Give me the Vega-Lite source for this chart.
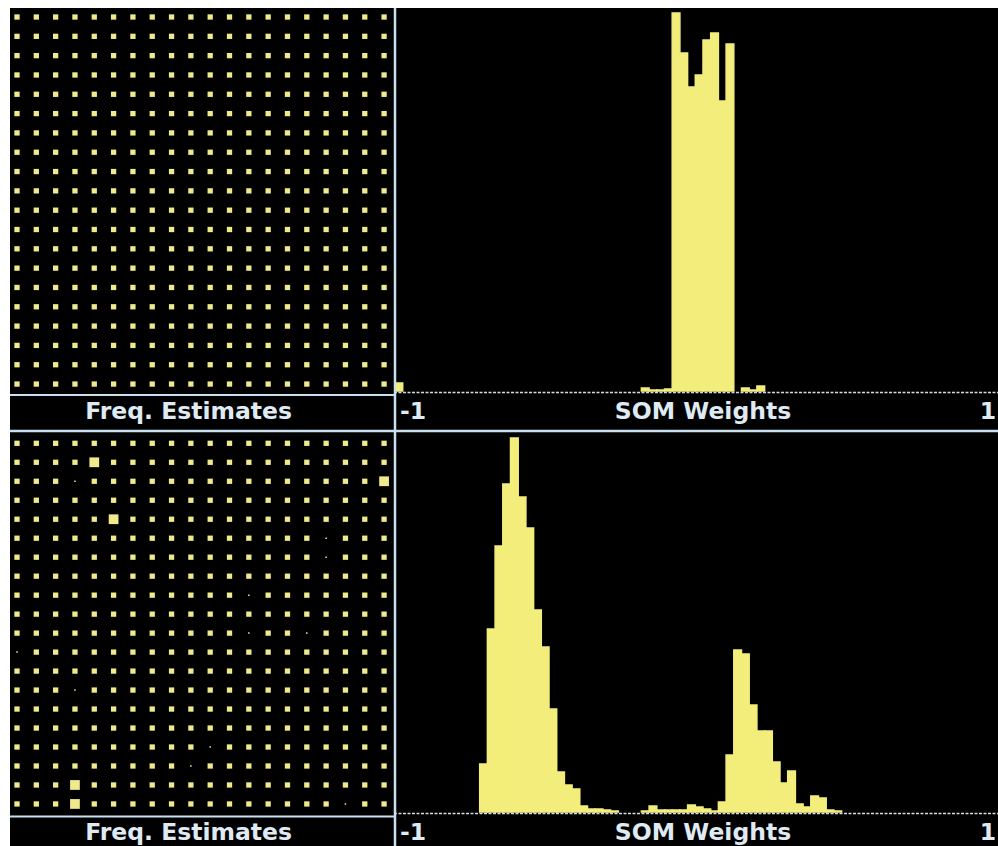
{
  "$schema": "https://vega.github.io/schema/vega-lite/v6.json",
  "background": "#ffffff",
  "padding": {"left": 8, "top": 6, "right": 0, "bottom": 0},
  "bounds": "flush",
  "spacing": 0,
  "columns": 2,
  "config": {
    "view": {"stroke": null, "fill": "#000000"},
    "text": {"font": "DejaVu Sans", "fontWeight": "bold", "fontSize": 23.5, "color": "#dfeaf3", "baseline": "alphabetic"}
  },
  "datasets": {
    "gridA": [
      {"r":0,"c":0,"f":1},{"r":0,"c":1,"f":1},{"r":0,"c":2,"f":1},{"r":0,"c":3,"f":1},{"r":0,"c":4,"f":1},{"r":0,"c":5,"f":1},{"r":0,"c":6,"f":1},{"r":0,"c":7,"f":1},{"r":0,"c":8,"f":1},{"r":0,"c":9,"f":1},{"r":0,"c":10,"f":1},{"r":0,"c":11,"f":1},{"r":0,"c":12,"f":1},{"r":0,"c":13,"f":1},{"r":0,"c":14,"f":1},{"r":0,"c":15,"f":1},{"r":0,"c":16,"f":1},{"r":0,"c":17,"f":1},{"r":0,"c":18,"f":1},{"r":0,"c":19,"f":1},
      {"r":1,"c":0,"f":1},{"r":1,"c":1,"f":1},{"r":1,"c":2,"f":1},{"r":1,"c":3,"f":1},{"r":1,"c":4,"f":1},{"r":1,"c":5,"f":1},{"r":1,"c":6,"f":1},{"r":1,"c":7,"f":1},{"r":1,"c":8,"f":1},{"r":1,"c":9,"f":1},{"r":1,"c":10,"f":1},{"r":1,"c":11,"f":1},{"r":1,"c":12,"f":1},{"r":1,"c":13,"f":1},{"r":1,"c":14,"f":1},{"r":1,"c":15,"f":1},{"r":1,"c":16,"f":1},{"r":1,"c":17,"f":1},{"r":1,"c":18,"f":1},{"r":1,"c":19,"f":1},
      {"r":2,"c":0,"f":1},{"r":2,"c":1,"f":1},{"r":2,"c":2,"f":1},{"r":2,"c":3,"f":1},{"r":2,"c":4,"f":1},{"r":2,"c":5,"f":1},{"r":2,"c":6,"f":1},{"r":2,"c":7,"f":1},{"r":2,"c":8,"f":1},{"r":2,"c":9,"f":1},{"r":2,"c":10,"f":1},{"r":2,"c":11,"f":1},{"r":2,"c":12,"f":1},{"r":2,"c":13,"f":1},{"r":2,"c":14,"f":1},{"r":2,"c":15,"f":1},{"r":2,"c":16,"f":1},{"r":2,"c":17,"f":1},{"r":2,"c":18,"f":1},{"r":2,"c":19,"f":1},
      {"r":3,"c":0,"f":1},{"r":3,"c":1,"f":1},{"r":3,"c":2,"f":1},{"r":3,"c":3,"f":1},{"r":3,"c":4,"f":1},{"r":3,"c":5,"f":1},{"r":3,"c":6,"f":1},{"r":3,"c":7,"f":1},{"r":3,"c":8,"f":1},{"r":3,"c":9,"f":1},{"r":3,"c":10,"f":1},{"r":3,"c":11,"f":1},{"r":3,"c":12,"f":1},{"r":3,"c":13,"f":1},{"r":3,"c":14,"f":1},{"r":3,"c":15,"f":1},{"r":3,"c":16,"f":1},{"r":3,"c":17,"f":1},{"r":3,"c":18,"f":1},{"r":3,"c":19,"f":1},
      {"r":4,"c":0,"f":1},{"r":4,"c":1,"f":1},{"r":4,"c":2,"f":1},{"r":4,"c":3,"f":1},{"r":4,"c":4,"f":1},{"r":4,"c":5,"f":1},{"r":4,"c":6,"f":1},{"r":4,"c":7,"f":1},{"r":4,"c":8,"f":1},{"r":4,"c":9,"f":1},{"r":4,"c":10,"f":1},{"r":4,"c":11,"f":1},{"r":4,"c":12,"f":1},{"r":4,"c":13,"f":1},{"r":4,"c":14,"f":1},{"r":4,"c":15,"f":1},{"r":4,"c":16,"f":1},{"r":4,"c":17,"f":1},{"r":4,"c":18,"f":1},{"r":4,"c":19,"f":1},
      {"r":5,"c":0,"f":1},{"r":5,"c":1,"f":1},{"r":5,"c":2,"f":1},{"r":5,"c":3,"f":1},{"r":5,"c":4,"f":1},{"r":5,"c":5,"f":1},{"r":5,"c":6,"f":1},{"r":5,"c":7,"f":1},{"r":5,"c":8,"f":1},{"r":5,"c":9,"f":1},{"r":5,"c":10,"f":1},{"r":5,"c":11,"f":1},{"r":5,"c":12,"f":1},{"r":5,"c":13,"f":1},{"r":5,"c":14,"f":1},{"r":5,"c":15,"f":1},{"r":5,"c":16,"f":1},{"r":5,"c":17,"f":1},{"r":5,"c":18,"f":1},{"r":5,"c":19,"f":1},
      {"r":6,"c":0,"f":1},{"r":6,"c":1,"f":1},{"r":6,"c":2,"f":1},{"r":6,"c":3,"f":1},{"r":6,"c":4,"f":1},{"r":6,"c":5,"f":1},{"r":6,"c":6,"f":1},{"r":6,"c":7,"f":1},{"r":6,"c":8,"f":1},{"r":6,"c":9,"f":1},{"r":6,"c":10,"f":1},{"r":6,"c":11,"f":1},{"r":6,"c":12,"f":1},{"r":6,"c":13,"f":1},{"r":6,"c":14,"f":1},{"r":6,"c":15,"f":1},{"r":6,"c":16,"f":1},{"r":6,"c":17,"f":1},{"r":6,"c":18,"f":1},{"r":6,"c":19,"f":1},
      {"r":7,"c":0,"f":1},{"r":7,"c":1,"f":1},{"r":7,"c":2,"f":1},{"r":7,"c":3,"f":1},{"r":7,"c":4,"f":1},{"r":7,"c":5,"f":1},{"r":7,"c":6,"f":1},{"r":7,"c":7,"f":1},{"r":7,"c":8,"f":1},{"r":7,"c":9,"f":1},{"r":7,"c":10,"f":1},{"r":7,"c":11,"f":1},{"r":7,"c":12,"f":1},{"r":7,"c":13,"f":1},{"r":7,"c":14,"f":1},{"r":7,"c":15,"f":1},{"r":7,"c":16,"f":1},{"r":7,"c":17,"f":1},{"r":7,"c":18,"f":1},{"r":7,"c":19,"f":1},
      {"r":8,"c":0,"f":1},{"r":8,"c":1,"f":1},{"r":8,"c":2,"f":1},{"r":8,"c":3,"f":1},{"r":8,"c":4,"f":1},{"r":8,"c":5,"f":1},{"r":8,"c":6,"f":1},{"r":8,"c":7,"f":1},{"r":8,"c":8,"f":1},{"r":8,"c":9,"f":1},{"r":8,"c":10,"f":1},{"r":8,"c":11,"f":1},{"r":8,"c":12,"f":1},{"r":8,"c":13,"f":1},{"r":8,"c":14,"f":1},{"r":8,"c":15,"f":1},{"r":8,"c":16,"f":1},{"r":8,"c":17,"f":1},{"r":8,"c":18,"f":1},{"r":8,"c":19,"f":1},
      {"r":9,"c":0,"f":1},{"r":9,"c":1,"f":1},{"r":9,"c":2,"f":1},{"r":9,"c":3,"f":1},{"r":9,"c":4,"f":1},{"r":9,"c":5,"f":1},{"r":9,"c":6,"f":1},{"r":9,"c":7,"f":1},{"r":9,"c":8,"f":1},{"r":9,"c":9,"f":1},{"r":9,"c":10,"f":1},{"r":9,"c":11,"f":1},{"r":9,"c":12,"f":1},{"r":9,"c":13,"f":1},{"r":9,"c":14,"f":1},{"r":9,"c":15,"f":1},{"r":9,"c":16,"f":1},{"r":9,"c":17,"f":1},{"r":9,"c":18,"f":1},{"r":9,"c":19,"f":1},
      {"r":10,"c":0,"f":1},{"r":10,"c":1,"f":1},{"r":10,"c":2,"f":1},{"r":10,"c":3,"f":1},{"r":10,"c":4,"f":1},{"r":10,"c":5,"f":1},{"r":10,"c":6,"f":1},{"r":10,"c":7,"f":1},{"r":10,"c":8,"f":1},{"r":10,"c":9,"f":1},{"r":10,"c":10,"f":1},{"r":10,"c":11,"f":1},{"r":10,"c":12,"f":1},{"r":10,"c":13,"f":1},{"r":10,"c":14,"f":1},{"r":10,"c":15,"f":1},{"r":10,"c":16,"f":1},{"r":10,"c":17,"f":1},{"r":10,"c":18,"f":1},{"r":10,"c":19,"f":1},
      {"r":11,"c":0,"f":1},{"r":11,"c":1,"f":1},{"r":11,"c":2,"f":1},{"r":11,"c":3,"f":1},{"r":11,"c":4,"f":1},{"r":11,"c":5,"f":1},{"r":11,"c":6,"f":1},{"r":11,"c":7,"f":1},{"r":11,"c":8,"f":1},{"r":11,"c":9,"f":1},{"r":11,"c":10,"f":1},{"r":11,"c":11,"f":1},{"r":11,"c":12,"f":1},{"r":11,"c":13,"f":1},{"r":11,"c":14,"f":1},{"r":11,"c":15,"f":1},{"r":11,"c":16,"f":1},{"r":11,"c":17,"f":1},{"r":11,"c":18,"f":1},{"r":11,"c":19,"f":1},
      {"r":12,"c":0,"f":1},{"r":12,"c":1,"f":1},{"r":12,"c":2,"f":1},{"r":12,"c":3,"f":1},{"r":12,"c":4,"f":1},{"r":12,"c":5,"f":1},{"r":12,"c":6,"f":1},{"r":12,"c":7,"f":1},{"r":12,"c":8,"f":1},{"r":12,"c":9,"f":1},{"r":12,"c":10,"f":1},{"r":12,"c":11,"f":1},{"r":12,"c":12,"f":1},{"r":12,"c":13,"f":1},{"r":12,"c":14,"f":1},{"r":12,"c":15,"f":1},{"r":12,"c":16,"f":1},{"r":12,"c":17,"f":1},{"r":12,"c":18,"f":1},{"r":12,"c":19,"f":1},
      {"r":13,"c":0,"f":1},{"r":13,"c":1,"f":1},{"r":13,"c":2,"f":1},{"r":13,"c":3,"f":1},{"r":13,"c":4,"f":1},{"r":13,"c":5,"f":1},{"r":13,"c":6,"f":1},{"r":13,"c":7,"f":1},{"r":13,"c":8,"f":1},{"r":13,"c":9,"f":1},{"r":13,"c":10,"f":1},{"r":13,"c":11,"f":1},{"r":13,"c":12,"f":1},{"r":13,"c":13,"f":1},{"r":13,"c":14,"f":1},{"r":13,"c":15,"f":1},{"r":13,"c":16,"f":1},{"r":13,"c":17,"f":1},{"r":13,"c":18,"f":1},{"r":13,"c":19,"f":1},
      {"r":14,"c":0,"f":1},{"r":14,"c":1,"f":1},{"r":14,"c":2,"f":1},{"r":14,"c":3,"f":1},{"r":14,"c":4,"f":1},{"r":14,"c":5,"f":1},{"r":14,"c":6,"f":1},{"r":14,"c":7,"f":1},{"r":14,"c":8,"f":1},{"r":14,"c":9,"f":1},{"r":14,"c":10,"f":1},{"r":14,"c":11,"f":1},{"r":14,"c":12,"f":1},{"r":14,"c":13,"f":1},{"r":14,"c":14,"f":1},{"r":14,"c":15,"f":1},{"r":14,"c":16,"f":1},{"r":14,"c":17,"f":1},{"r":14,"c":18,"f":1},{"r":14,"c":19,"f":1},
      {"r":15,"c":0,"f":1},{"r":15,"c":1,"f":1},{"r":15,"c":2,"f":1},{"r":15,"c":3,"f":1},{"r":15,"c":4,"f":1},{"r":15,"c":5,"f":1},{"r":15,"c":6,"f":1},{"r":15,"c":7,"f":1},{"r":15,"c":8,"f":1},{"r":15,"c":9,"f":1},{"r":15,"c":10,"f":1},{"r":15,"c":11,"f":1},{"r":15,"c":12,"f":1},{"r":15,"c":13,"f":1},{"r":15,"c":14,"f":1},{"r":15,"c":15,"f":1},{"r":15,"c":16,"f":1},{"r":15,"c":17,"f":1},{"r":15,"c":18,"f":1},{"r":15,"c":19,"f":1},
      {"r":16,"c":0,"f":1},{"r":16,"c":1,"f":1},{"r":16,"c":2,"f":1},{"r":16,"c":3,"f":1},{"r":16,"c":4,"f":1},{"r":16,"c":5,"f":1},{"r":16,"c":6,"f":1},{"r":16,"c":7,"f":1},{"r":16,"c":8,"f":1},{"r":16,"c":9,"f":1},{"r":16,"c":10,"f":1},{"r":16,"c":11,"f":1},{"r":16,"c":12,"f":1},{"r":16,"c":13,"f":1},{"r":16,"c":14,"f":1},{"r":16,"c":15,"f":1},{"r":16,"c":16,"f":1},{"r":16,"c":17,"f":1},{"r":16,"c":18,"f":1},{"r":16,"c":19,"f":1},
      {"r":17,"c":0,"f":1},{"r":17,"c":1,"f":1},{"r":17,"c":2,"f":1},{"r":17,"c":3,"f":1},{"r":17,"c":4,"f":1},{"r":17,"c":5,"f":1},{"r":17,"c":6,"f":1},{"r":17,"c":7,"f":1},{"r":17,"c":8,"f":1},{"r":17,"c":9,"f":1},{"r":17,"c":10,"f":1},{"r":17,"c":11,"f":1},{"r":17,"c":12,"f":1},{"r":17,"c":13,"f":1},{"r":17,"c":14,"f":1},{"r":17,"c":15,"f":1},{"r":17,"c":16,"f":1},{"r":17,"c":17,"f":1},{"r":17,"c":18,"f":1},{"r":17,"c":19,"f":1},
      {"r":18,"c":0,"f":1},{"r":18,"c":1,"f":1},{"r":18,"c":2,"f":1},{"r":18,"c":3,"f":1},{"r":18,"c":4,"f":1},{"r":18,"c":5,"f":1},{"r":18,"c":6,"f":1},{"r":18,"c":7,"f":1},{"r":18,"c":8,"f":1},{"r":18,"c":9,"f":1},{"r":18,"c":10,"f":1},{"r":18,"c":11,"f":1},{"r":18,"c":12,"f":1},{"r":18,"c":13,"f":1},{"r":18,"c":14,"f":1},{"r":18,"c":15,"f":1},{"r":18,"c":16,"f":1},{"r":18,"c":17,"f":1},{"r":18,"c":18,"f":1},{"r":18,"c":19,"f":1},
      {"r":19,"c":0,"f":1},{"r":19,"c":1,"f":1},{"r":19,"c":2,"f":1},{"r":19,"c":3,"f":1},{"r":19,"c":4,"f":1},{"r":19,"c":5,"f":1},{"r":19,"c":6,"f":1},{"r":19,"c":7,"f":1},{"r":19,"c":8,"f":1},{"r":19,"c":9,"f":1},{"r":19,"c":10,"f":1},{"r":19,"c":11,"f":1},{"r":19,"c":12,"f":1},{"r":19,"c":13,"f":1},{"r":19,"c":14,"f":1},{"r":19,"c":15,"f":1},{"r":19,"c":16,"f":1},{"r":19,"c":17,"f":1},{"r":19,"c":18,"f":1},{"r":19,"c":19,"f":1}
    ],
    "gridB": [
      {"r":0,"c":0,"f":1},{"r":0,"c":1,"f":1},{"r":0,"c":2,"f":1},{"r":0,"c":3,"f":1},{"r":0,"c":4,"f":1},{"r":0,"c":5,"f":1},{"r":0,"c":6,"f":1},{"r":0,"c":7,"f":1},{"r":0,"c":8,"f":1},{"r":0,"c":9,"f":1},{"r":0,"c":10,"f":1},{"r":0,"c":11,"f":1},{"r":0,"c":12,"f":1},{"r":0,"c":13,"f":1},{"r":0,"c":14,"f":1},{"r":0,"c":15,"f":1},{"r":0,"c":16,"f":1},{"r":0,"c":17,"f":1},{"r":0,"c":18,"f":1},{"r":0,"c":19,"f":1},
      {"r":1,"c":0,"f":1},{"r":1,"c":1,"f":1},{"r":1,"c":2,"f":1},{"r":1,"c":3,"f":1},{"r":1,"c":4,"f":3.4},{"r":1,"c":5,"f":1},{"r":1,"c":6,"f":1},{"r":1,"c":7,"f":1},{"r":1,"c":8,"f":1},{"r":1,"c":9,"f":1},{"r":1,"c":10,"f":1},{"r":1,"c":11,"f":1},{"r":1,"c":12,"f":1},{"r":1,"c":13,"f":1},{"r":1,"c":14,"f":1},{"r":1,"c":15,"f":1},{"r":1,"c":16,"f":1},{"r":1,"c":17,"f":1},{"r":1,"c":18,"f":1},{"r":1,"c":19,"f":1},
      {"r":2,"c":0,"f":1},{"r":2,"c":1,"f":1},{"r":2,"c":2,"f":1},{"r":2,"c":3,"f":0.08},{"r":2,"c":4,"f":1},{"r":2,"c":5,"f":1},{"r":2,"c":6,"f":1},{"r":2,"c":7,"f":1},{"r":2,"c":8,"f":1},{"r":2,"c":9,"f":1},{"r":2,"c":10,"f":1},{"r":2,"c":11,"f":1},{"r":2,"c":12,"f":1},{"r":2,"c":13,"f":1},{"r":2,"c":14,"f":1},{"r":2,"c":15,"f":1},{"r":2,"c":16,"f":1},{"r":2,"c":17,"f":1},{"r":2,"c":18,"f":1},{"r":2,"c":19,"f":3.4},
      {"r":3,"c":0,"f":1},{"r":3,"c":1,"f":1},{"r":3,"c":2,"f":1},{"r":3,"c":3,"f":1},{"r":3,"c":4,"f":1},{"r":3,"c":5,"f":1},{"r":3,"c":6,"f":1},{"r":3,"c":7,"f":1},{"r":3,"c":8,"f":1},{"r":3,"c":9,"f":1},{"r":3,"c":10,"f":1},{"r":3,"c":11,"f":1},{"r":3,"c":12,"f":1},{"r":3,"c":13,"f":1},{"r":3,"c":14,"f":1},{"r":3,"c":15,"f":1},{"r":3,"c":16,"f":1},{"r":3,"c":17,"f":1},{"r":3,"c":18,"f":1},{"r":3,"c":19,"f":1},
      {"r":4,"c":0,"f":1},{"r":4,"c":1,"f":1},{"r":4,"c":2,"f":1},{"r":4,"c":3,"f":1},{"r":4,"c":4,"f":1},{"r":4,"c":5,"f":3.4},{"r":4,"c":6,"f":1},{"r":4,"c":7,"f":1},{"r":4,"c":8,"f":1},{"r":4,"c":9,"f":1},{"r":4,"c":10,"f":1},{"r":4,"c":11,"f":1},{"r":4,"c":12,"f":1},{"r":4,"c":13,"f":1},{"r":4,"c":14,"f":1},{"r":4,"c":15,"f":1},{"r":4,"c":16,"f":1},{"r":4,"c":17,"f":1},{"r":4,"c":18,"f":1},{"r":4,"c":19,"f":1},
      {"r":5,"c":0,"f":1},{"r":5,"c":1,"f":1},{"r":5,"c":2,"f":1},{"r":5,"c":3,"f":1},{"r":5,"c":4,"f":1},{"r":5,"c":5,"f":1},{"r":5,"c":6,"f":1},{"r":5,"c":7,"f":1},{"r":5,"c":8,"f":1},{"r":5,"c":9,"f":1},{"r":5,"c":10,"f":1},{"r":5,"c":11,"f":1},{"r":5,"c":12,"f":1},{"r":5,"c":13,"f":1},{"r":5,"c":14,"f":1},{"r":5,"c":15,"f":1},{"r":5,"c":16,"f":0.08},{"r":5,"c":17,"f":1},{"r":5,"c":18,"f":1},{"r":5,"c":19,"f":1},
      {"r":6,"c":0,"f":1},{"r":6,"c":1,"f":1},{"r":6,"c":2,"f":1},{"r":6,"c":3,"f":1},{"r":6,"c":4,"f":1},{"r":6,"c":5,"f":1},{"r":6,"c":6,"f":1},{"r":6,"c":7,"f":1},{"r":6,"c":8,"f":1},{"r":6,"c":9,"f":1},{"r":6,"c":10,"f":1},{"r":6,"c":11,"f":1},{"r":6,"c":12,"f":1},{"r":6,"c":13,"f":1},{"r":6,"c":14,"f":1},{"r":6,"c":15,"f":1},{"r":6,"c":16,"f":0.08},{"r":6,"c":17,"f":1},{"r":6,"c":18,"f":1},{"r":6,"c":19,"f":1},
      {"r":7,"c":0,"f":1},{"r":7,"c":1,"f":1},{"r":7,"c":2,"f":1},{"r":7,"c":3,"f":1},{"r":7,"c":4,"f":1},{"r":7,"c":5,"f":1},{"r":7,"c":6,"f":1},{"r":7,"c":7,"f":1},{"r":7,"c":8,"f":1},{"r":7,"c":9,"f":1},{"r":7,"c":10,"f":1},{"r":7,"c":11,"f":1},{"r":7,"c":12,"f":1},{"r":7,"c":13,"f":1},{"r":7,"c":14,"f":1},{"r":7,"c":15,"f":1},{"r":7,"c":16,"f":1},{"r":7,"c":17,"f":1},{"r":7,"c":18,"f":1},{"r":7,"c":19,"f":1},
      {"r":8,"c":0,"f":1},{"r":8,"c":1,"f":1},{"r":8,"c":2,"f":1},{"r":8,"c":3,"f":1},{"r":8,"c":4,"f":1},{"r":8,"c":5,"f":1},{"r":8,"c":6,"f":1},{"r":8,"c":7,"f":1},{"r":8,"c":8,"f":1},{"r":8,"c":9,"f":1},{"r":8,"c":10,"f":1},{"r":8,"c":11,"f":1},{"r":8,"c":12,"f":0.08},{"r":8,"c":13,"f":1},{"r":8,"c":14,"f":1},{"r":8,"c":15,"f":1},{"r":8,"c":16,"f":1},{"r":8,"c":17,"f":1},{"r":8,"c":18,"f":1},{"r":8,"c":19,"f":1},
      {"r":9,"c":0,"f":1},{"r":9,"c":1,"f":1},{"r":9,"c":2,"f":1},{"r":9,"c":3,"f":1},{"r":9,"c":4,"f":1},{"r":9,"c":5,"f":1},{"r":9,"c":6,"f":1},{"r":9,"c":7,"f":1},{"r":9,"c":8,"f":1},{"r":9,"c":9,"f":1},{"r":9,"c":10,"f":1},{"r":9,"c":11,"f":1},{"r":9,"c":12,"f":1},{"r":9,"c":13,"f":1},{"r":9,"c":14,"f":1},{"r":9,"c":15,"f":1},{"r":9,"c":16,"f":1},{"r":9,"c":17,"f":1},{"r":9,"c":18,"f":1},{"r":9,"c":19,"f":1},
      {"r":10,"c":0,"f":1},{"r":10,"c":1,"f":1},{"r":10,"c":2,"f":1},{"r":10,"c":3,"f":1},{"r":10,"c":4,"f":1},{"r":10,"c":5,"f":1},{"r":10,"c":6,"f":1},{"r":10,"c":7,"f":1},{"r":10,"c":8,"f":1},{"r":10,"c":9,"f":1},{"r":10,"c":10,"f":1},{"r":10,"c":11,"f":1},{"r":10,"c":12,"f":0.08},{"r":10,"c":13,"f":1},{"r":10,"c":14,"f":1},{"r":10,"c":15,"f":0.08},{"r":10,"c":16,"f":1},{"r":10,"c":17,"f":1},{"r":10,"c":18,"f":1},{"r":10,"c":19,"f":1},
      {"r":11,"c":0,"f":0.08},{"r":11,"c":1,"f":1},{"r":11,"c":2,"f":1},{"r":11,"c":3,"f":1},{"r":11,"c":4,"f":1},{"r":11,"c":5,"f":1},{"r":11,"c":6,"f":1},{"r":11,"c":7,"f":1},{"r":11,"c":8,"f":1},{"r":11,"c":9,"f":1},{"r":11,"c":10,"f":1},{"r":11,"c":11,"f":1},{"r":11,"c":12,"f":1},{"r":11,"c":13,"f":1},{"r":11,"c":14,"f":1},{"r":11,"c":15,"f":1},{"r":11,"c":16,"f":1},{"r":11,"c":17,"f":1},{"r":11,"c":18,"f":1},{"r":11,"c":19,"f":1},
      {"r":12,"c":0,"f":1},{"r":12,"c":1,"f":1},{"r":12,"c":2,"f":1},{"r":12,"c":3,"f":1},{"r":12,"c":4,"f":1},{"r":12,"c":5,"f":1},{"r":12,"c":6,"f":1},{"r":12,"c":7,"f":1},{"r":12,"c":8,"f":1},{"r":12,"c":9,"f":1},{"r":12,"c":10,"f":1},{"r":12,"c":11,"f":1},{"r":12,"c":12,"f":1},{"r":12,"c":13,"f":1},{"r":12,"c":14,"f":1},{"r":12,"c":15,"f":1},{"r":12,"c":16,"f":1},{"r":12,"c":17,"f":1},{"r":12,"c":18,"f":1},{"r":12,"c":19,"f":1},
      {"r":13,"c":0,"f":1},{"r":13,"c":1,"f":1},{"r":13,"c":2,"f":1},{"r":13,"c":3,"f":0.08},{"r":13,"c":4,"f":1},{"r":13,"c":5,"f":1},{"r":13,"c":6,"f":1},{"r":13,"c":7,"f":1},{"r":13,"c":8,"f":1},{"r":13,"c":9,"f":1},{"r":13,"c":10,"f":1},{"r":13,"c":11,"f":1},{"r":13,"c":12,"f":1},{"r":13,"c":13,"f":1},{"r":13,"c":14,"f":1},{"r":13,"c":15,"f":1},{"r":13,"c":16,"f":1},{"r":13,"c":17,"f":1},{"r":13,"c":18,"f":1},{"r":13,"c":19,"f":1},
      {"r":14,"c":0,"f":1},{"r":14,"c":1,"f":1},{"r":14,"c":2,"f":1},{"r":14,"c":3,"f":1},{"r":14,"c":4,"f":1},{"r":14,"c":5,"f":1},{"r":14,"c":6,"f":1},{"r":14,"c":7,"f":1},{"r":14,"c":8,"f":1},{"r":14,"c":9,"f":1},{"r":14,"c":10,"f":1},{"r":14,"c":11,"f":1},{"r":14,"c":12,"f":1},{"r":14,"c":13,"f":1},{"r":14,"c":14,"f":1},{"r":14,"c":15,"f":1},{"r":14,"c":16,"f":1},{"r":14,"c":17,"f":1},{"r":14,"c":18,"f":1},{"r":14,"c":19,"f":1},
      {"r":15,"c":0,"f":1},{"r":15,"c":1,"f":1},{"r":15,"c":2,"f":1},{"r":15,"c":3,"f":1},{"r":15,"c":4,"f":1},{"r":15,"c":5,"f":1},{"r":15,"c":6,"f":1},{"r":15,"c":7,"f":1},{"r":15,"c":8,"f":1},{"r":15,"c":9,"f":1},{"r":15,"c":10,"f":1},{"r":15,"c":11,"f":1},{"r":15,"c":12,"f":1},{"r":15,"c":13,"f":1},{"r":15,"c":14,"f":1},{"r":15,"c":15,"f":1},{"r":15,"c":16,"f":1},{"r":15,"c":17,"f":1},{"r":15,"c":18,"f":1},{"r":15,"c":19,"f":1},
      {"r":16,"c":0,"f":1},{"r":16,"c":1,"f":1},{"r":16,"c":2,"f":1},{"r":16,"c":3,"f":1},{"r":16,"c":4,"f":1},{"r":16,"c":5,"f":1},{"r":16,"c":6,"f":1},{"r":16,"c":7,"f":1},{"r":16,"c":8,"f":1},{"r":16,"c":9,"f":1},{"r":16,"c":10,"f":0.08},{"r":16,"c":11,"f":1},{"r":16,"c":12,"f":1},{"r":16,"c":13,"f":1},{"r":16,"c":14,"f":1},{"r":16,"c":15,"f":1},{"r":16,"c":16,"f":1},{"r":16,"c":17,"f":1},{"r":16,"c":18,"f":1},{"r":16,"c":19,"f":1},
      {"r":17,"c":0,"f":1},{"r":17,"c":1,"f":1},{"r":17,"c":2,"f":1},{"r":17,"c":3,"f":1},{"r":17,"c":4,"f":1},{"r":17,"c":5,"f":1},{"r":17,"c":6,"f":1},{"r":17,"c":7,"f":1},{"r":17,"c":8,"f":1},{"r":17,"c":9,"f":0.08},{"r":17,"c":10,"f":1},{"r":17,"c":11,"f":1},{"r":17,"c":12,"f":1},{"r":17,"c":13,"f":1},{"r":17,"c":14,"f":1},{"r":17,"c":15,"f":1},{"r":17,"c":16,"f":1},{"r":17,"c":17,"f":1},{"r":17,"c":18,"f":1},{"r":17,"c":19,"f":1},
      {"r":18,"c":0,"f":1},{"r":18,"c":1,"f":1},{"r":18,"c":2,"f":1},{"r":18,"c":3,"f":3.4},{"r":18,"c":4,"f":1},{"r":18,"c":5,"f":1},{"r":18,"c":6,"f":1},{"r":18,"c":7,"f":1},{"r":18,"c":8,"f":1},{"r":18,"c":9,"f":1},{"r":18,"c":10,"f":1},{"r":18,"c":11,"f":1},{"r":18,"c":12,"f":1},{"r":18,"c":13,"f":1},{"r":18,"c":14,"f":1},{"r":18,"c":15,"f":1},{"r":18,"c":16,"f":1},{"r":18,"c":17,"f":1},{"r":18,"c":18,"f":1},{"r":18,"c":19,"f":1},
      {"r":19,"c":0,"f":1},{"r":19,"c":1,"f":1},{"r":19,"c":2,"f":1},{"r":19,"c":3,"f":3.4},{"r":19,"c":4,"f":1},{"r":19,"c":5,"f":1},{"r":19,"c":6,"f":1},{"r":19,"c":7,"f":1},{"r":19,"c":8,"f":1},{"r":19,"c":9,"f":1},{"r":19,"c":10,"f":1},{"r":19,"c":11,"f":1},{"r":19,"c":12,"f":1},{"r":19,"c":13,"f":1},{"r":19,"c":14,"f":1},{"r":19,"c":15,"f":1},{"r":19,"c":16,"f":1},{"r":19,"c":17,"f":0.08},{"r":19,"c":18,"f":1},{"r":19,"c":19,"f":1}
    ],
    "histA": [
      {"x0":-1,"x1":-0.975,"n":8},
      {"x0":-0.2,"x1":-0.175,"n":3},
      {"x0":-0.175,"x1":-0.15,"n":1},
      {"x0":-0.15,"x1":-0.125,"n":1},
      {"x0":-0.125,"x1":-0.1,"n":2},
      {"x0":-0.1,"x1":-0.075,"n":378},
      {"x0":-0.075,"x1":-0.05,"n":338},
      {"x0":-0.05,"x1":-0.025,"n":304},
      {"x0":-0.025,"x1":0,"n":316},
      {"x0":0,"x1":0.025,"n":351},
      {"x0":0.025,"x1":0.05,"n":358},
      {"x0":0.05,"x1":0.075,"n":290},
      {"x0":0.075,"x1":0.1,"n":347},
      {"x0":0.125,"x1":0.15,"n":3},
      {"x0":0.15,"x1":0.175,"n":1},
      {"x0":0.175,"x1":0.2,"n":5}
    ],
    "histB": [
      {"x0":-0.725,"x1":-0.7,"n":48},
      {"x0":-0.7,"x1":-0.675,"n":183},
      {"x0":-0.675,"x1":-0.65,"n":266},
      {"x0":-0.65,"x1":-0.625,"n":328},
      {"x0":-0.625,"x1":-0.6,"n":374},
      {"x0":-0.6,"x1":-0.575,"n":315},
      {"x0":-0.575,"x1":-0.55,"n":284},
      {"x0":-0.55,"x1":-0.525,"n":202},
      {"x0":-0.525,"x1":-0.5,"n":165},
      {"x0":-0.5,"x1":-0.475,"n":103},
      {"x0":-0.475,"x1":-0.45,"n":40},
      {"x0":-0.45,"x1":-0.425,"n":27},
      {"x0":-0.425,"x1":-0.4,"n":23},
      {"x0":-0.4,"x1":-0.375,"n":6},
      {"x0":-0.375,"x1":-0.35,"n":3},
      {"x0":-0.35,"x1":-0.325,"n":3},
      {"x0":-0.325,"x1":-0.3,"n":2},
      {"x0":-0.3,"x1":-0.275,"n":1},
      {"x0":-0.2,"x1":-0.175,"n":1},
      {"x0":-0.175,"x1":-0.15,"n":6},
      {"x0":-0.15,"x1":-0.125,"n":2},
      {"x0":-0.125,"x1":-0.1,"n":2},
      {"x0":-0.1,"x1":-0.075,"n":2},
      {"x0":-0.075,"x1":-0.05,"n":2},
      {"x0":-0.05,"x1":-0.025,"n":7},
      {"x0":-0.025,"x1":0,"n":5},
      {"x0":0,"x1":0.025,"n":3},
      {"x0":0.025,"x1":0.05,"n":1},
      {"x0":0.05,"x1":0.075,"n":10},
      {"x0":0.075,"x1":0.1,"n":57},
      {"x0":0.1,"x1":0.125,"n":162},
      {"x0":0.125,"x1":0.15,"n":158},
      {"x0":0.15,"x1":0.175,"n":107},
      {"x0":0.175,"x1":0.2,"n":81},
      {"x0":0.2,"x1":0.225,"n":81},
      {"x0":0.225,"x1":0.25,"n":50},
      {"x0":0.25,"x1":0.275,"n":29},
      {"x0":0.275,"x1":0.3,"n":41},
      {"x0":0.3,"x1":0.325,"n":8},
      {"x0":0.325,"x1":0.35,"n":5},
      {"x0":0.35,"x1":0.375,"n":16},
      {"x0":0.375,"x1":0.4,"n":14},
      {"x0":0.4,"x1":0.425,"n":2},
      {"x0":0.425,"x1":0.45,"n":1}
    ]
  },
  "concat": [
    {
      "width": 385,
      "height": 423,
      "layer": [
        {
          "data": {"name": "gridA"},
          "mark": {"type": "point", "shape": "square", "filled": true, "opacity": 1, "color": "#f0ea8c", "strokeWidth": 0},
          "encoding": {
            "x": {"field": "c", "type": "quantitative", "axis": null, "scale": {"domain": [-0.362, 19.565], "nice": false, "zero": false}},
            "y": {"field": "r", "type": "quantitative", "axis": null, "scale": {"domain": [-0.466, 21.43], "nice": false, "zero": false, "reverse": true}},
            "size": {"field": "f", "type": "quantitative", "legend": null, "scale": {"domain": [0, 4], "range": [0, 112], "zero": true}}
          }
        },
        {
          "data": {"values": [{}]},
          "mark": {"type": "rule", "color": "#c9e0f0", "strokeWidth": 2},
          "encoding": {"y": {"datum": 19.565, "type": "quantitative"}}
        },
        {
          "data": {"values": [{}]},
          "mark": {"type": "text", "text": "Freq. Estimates", "align": "center"},
          "encoding": {"x": {"datum": 8.88, "type": "quantitative"}, "y": {"datum": 20.79, "type": "quantitative"}}
        }
      ]
    },
    {
      "width": 605,
      "height": 423,
      "layer": [
        {
          "data": {"name": "histA"},
          "mark": {"type": "rect", "color": "#f3ed7b", "stroke": "#f3ed7b", "strokeWidth": 1.5},
          "encoding": {
            "x": {"field": "x0", "type": "quantitative", "axis": null, "scale": {"domain": [-1, 0.9643], "nice": false, "zero": false}},
            "x2": {"field": "x1"},
            "y": {"field": "n", "type": "quantitative", "axis": null, "scale": {"domain": [-40, 383], "nice": false, "zero": false}},
            "y2": {"datum": 0}
          }
        },
        {
          "data": {"values": [{}]},
          "mark": {"type": "rule", "color": "#d6dde2", "strokeWidth": 1.5, "strokeDash": [3, 1.5]},
          "encoding": {"y": {"datum": -1.5, "type": "quantitative"}}
        },
        {
          "data": {"values": [{}]},
          "mark": {"type": "rule", "color": "#c9e0f0", "strokeWidth": 2.5},
          "encoding": {"x": {"datum": -1, "type": "quantitative"}}
        },
        {
          "data": {"values": [{}]},
          "mark": {"type": "text", "text": "SOM Weights", "align": "center"},
          "encoding": {"x": {"datum": 0, "type": "quantitative"}, "y": {"datum": -27.7, "type": "quantitative"}}
        },
        {
          "data": {"values": [{}]},
          "mark": {"type": "text", "text": "-1", "align": "left", "dx": 5},
          "encoding": {"x": {"datum": -1, "type": "quantitative"}, "y": {"datum": -27.7, "type": "quantitative"}}
        },
        {
          "data": {"values": [{}]},
          "mark": {"type": "text", "text": "1", "align": "right", "dx": -4},
          "encoding": {"x": {"datum": 0.9643, "type": "quantitative"}, "y": {"datum": -27.7, "type": "quantitative"}}
        }
      ]
    },
    {
      "width": 385,
      "height": 417,
      "layer": [
        {
          "data": {"name": "gridB"},
          "mark": {"type": "point", "shape": "square", "filled": true, "opacity": 1, "color": "#f0ea8c", "strokeWidth": 0},
          "encoding": {
            "x": {"field": "c", "type": "quantitative", "axis": null, "scale": {"domain": [-0.362, 19.565], "nice": false, "zero": false}},
            "y": {"field": "r", "type": "quantitative", "axis": null, "scale": {"domain": [-0.648, 21.32], "nice": false, "zero": false, "reverse": true}},
            "size": {"field": "f", "type": "quantitative", "legend": null, "scale": {"domain": [0, 4], "range": [0, 112], "zero": true}}
          }
        },
        {
          "data": {"values": [{}]},
          "mark": {"type": "rule", "color": "#c9e0f0", "strokeWidth": 2},
          "encoding": {"y": {"datum": 19.66, "type": "quantitative"}}
        },
        {
          "data": {"values": [{}]},
          "mark": {"type": "rule", "color": "#c9e0f0", "strokeWidth": 2.5},
          "encoding": {"y": {"datum": -0.648, "type": "quantitative"}}
        },
        {
          "data": {"values": [{}]},
          "mark": {"type": "text", "text": "Freq. Estimates", "align": "center"},
          "encoding": {"x": {"datum": 8.88, "type": "quantitative"}, "y": {"datum": 20.9, "type": "quantitative"}}
        }
      ]
    },
    {
      "width": 605,
      "height": 417,
      "layer": [
        {
          "data": {"name": "histB"},
          "mark": {"type": "rect", "color": "#f3ed7b", "stroke": "#f3ed7b", "strokeWidth": 1.5},
          "encoding": {
            "x": {"field": "x0", "type": "quantitative", "axis": null, "scale": {"domain": [-1, 0.9643], "nice": false, "zero": false}},
            "x2": {"field": "x1"},
            "y": {"field": "n", "type": "quantitative", "axis": null, "scale": {"domain": [-36, 381], "nice": false, "zero": false}},
            "y2": {"datum": 0}
          }
        },
        {
          "data": {"values": [{}]},
          "mark": {"type": "rule", "color": "#d6dde2", "strokeWidth": 1.5, "strokeDash": [3, 1.5]},
          "encoding": {"y": {"datum": -1.5, "type": "quantitative"}}
        },
        {
          "data": {"values": [{}]},
          "mark": {"type": "rule", "color": "#c9e0f0", "strokeWidth": 2.5},
          "encoding": {"x": {"datum": -1, "type": "quantitative"}}
        },
        {
          "data": {"values": [{}]},
          "mark": {"type": "rule", "color": "#c9e0f0", "strokeWidth": 2.5},
          "encoding": {"y": {"datum": 381, "type": "quantitative"}}
        },
        {
          "data": {"values": [{}]},
          "mark": {"type": "text", "text": "SOM Weights", "align": "center"},
          "encoding": {"x": {"datum": 0, "type": "quantitative"}, "y": {"datum": -28, "type": "quantitative"}}
        },
        {
          "data": {"values": [{}]},
          "mark": {"type": "text", "text": "-1", "align": "left", "dx": 5},
          "encoding": {"x": {"datum": -1, "type": "quantitative"}, "y": {"datum": -28, "type": "quantitative"}}
        },
        {
          "data": {"values": [{}]},
          "mark": {"type": "text", "text": "1", "align": "right", "dx": -4},
          "encoding": {"x": {"datum": 0.9643, "type": "quantitative"}, "y": {"datum": -28, "type": "quantitative"}}
        }
      ]
    }
  ]
}
